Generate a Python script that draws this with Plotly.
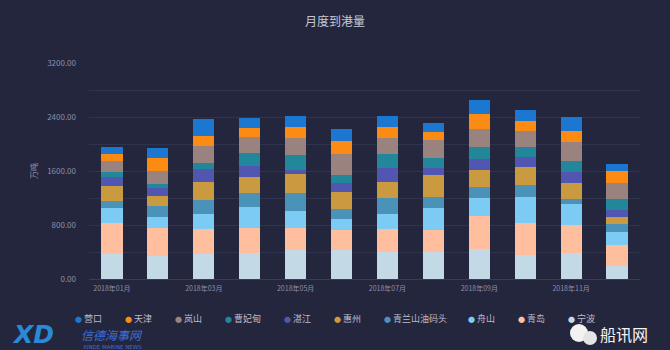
import plotly.graph_objects as go

# ---------------- data ----------------
months = ["2018年01月", "2018年02月", "2018年03月", "2018年04月", "2018年05月", "2018年06月",
          "2018年07月", "2018年08月", "2018年09月", "2018年10月", "2018年11月", "2018年12月"]
tick_months = ["2018年01月", "2018年03月", "2018年05月", "2018年07月", "2018年09月", "2018年11月"]

# legend order (top of stack -> bottom of stack)
names = ["营口", "天津", "岚山", "曹妃甸", "湛江", "惠州", "青兰山油码头", "舟山", "青岛", "宁波"]

yingkou = [114, 138, 247, 138, 158, 173, 168, 133, 207, 163, 203, 104]
tianjin = [99, 193, 148, 133, 163, 203, 153, 124, 227, 148, 158, 173]
lanshan = [158, 203, 257, 247, 257, 306, 247, 272, 267, 242, 282, 247]
caofeidian = [84, 49, 84, 188, 222, 124, 198, 148, 178, 138, 163, 158]
zhanjiang = [128, 124, 188, 168, 64, 124, 207, 99, 158, 148, 163, 99]
huizhou = [222, 148, 272, 237, 272, 262, 247, 321, 247, 272, 247, 114]
qinglanshan = [109, 158, 212, 198, 267, 148, 232, 173, 163, 173, 69, 119]
zhoushan = [222, 173, 222, 311, 262, 158, 227, 321, 272, 395, 311, 188]
qingdao = [459, 405, 370, 380, 321, 296, 341, 331, 494, 469, 410, 311]
ningbo = [365, 346, 365, 380, 430, 430, 395, 395, 440, 356, 390, 193]

values = [yingkou, tianjin, lanshan, caofeidian, zhanjiang, huizhou, qinglanshan, zhoushan, qingdao, ningbo]
colors = ["#1c77d0", "#fb8b12", "#9a837f", "#22879a", "#5157b0", "#c99a40",
          "#4a92b8", "#7ccbf5", "#ffbf9f", "#c3d9e6"]

# ---------------- layout helpers ----------------
W, H = 670, 350
L, R, T, B = 89, 30, 63, 71
PW, PH = W - L - R, H - T - B


def px(x):
    return (x - L) / PW


def py(y):
    return (H - B - y) / PH


BG = "#24263e"
GRID = "#30334c"
TXT = "#8c90a8"
FONT = "Noto Sans CJK SC, Noto Sans, sans-serif"

fig = go.Figure()
# plotly stacks first trace at the bottom -> add in reverse legend order
for name, vals, col in reversed(list(zip(names, values, colors))):
    fig.add_trace(go.Bar(x=months, y=vals, name=name, marker=dict(color=col, line=dict(width=0)),
                         showlegend=False))

fig.update_layout(
    width=W, height=H,
    margin=dict(l=L, r=R, t=T, b=B),
    paper_bgcolor=BG, plot_bgcolor=BG,
    barmode="stack", bargap=0.54,
    font=dict(family=FONT, color=TXT, size=8),
    title=dict(text="月度到港量", x=0.5, xanchor="center", y=1 - 22 / H, yanchor="middle",
               yref="container", font=dict(size=12, color="#c5c8d4", family=FONT)),
    xaxis=dict(tickmode="array", tickvals=tick_months, ticktext=tick_months,
               tickfont=dict(size=7, color=TXT), showgrid=False, showline=True,
               linecolor="#3a3d56", linewidth=1, ticks="", zeroline=False,
               ticklabelstandoff=3),
    yaxis=dict(range=[0, 3200], dtick=800, tick0=0, tickformat=".2f",
               tickfont=dict(size=8, color=TXT), gridcolor=GRID, gridwidth=1,
               zeroline=False, showline=False, ticklabelstandoff=12,
               minor=dict(dtick=400, showgrid=True, gridcolor=GRID),
               title=dict(text="万吨", font=dict(size=8, color=TXT), standoff=8)),
)

# legend drawn as a row of annotations (dot + name)
xp = 73
for name, col in zip(names, colors):
    fig.add_annotation(text=f"<span style='color:{col};font-size:7px'>●</span> {name}",
                       x=px(xp), y=py(318), xref="paper", yref="paper",
                       xanchor="left", yanchor="middle", showarrow=False,
                       font=dict(size=9, color="#b9bccb", family=FONT))
    xp += len(name) * 8.5 + 33


def mark(text, x, y, size, color, family=FONT):
    fig.add_annotation(text=text, x=px(x), y=py(y), xref="paper", yref="paper",
                       xanchor="center", yanchor="middle", showarrow=False,
                       font=dict(size=size, color=color, family=family))


def bubble(cx, cy, r, color):
    fig.add_shape(type="circle", xref="paper", yref="paper",
                  x0=px(cx - r), x1=px(cx + r), y0=py(cy + r), y1=py(cy - r),
                  fillcolor=color, line=dict(width=0), layer="above")


# watermarks (kept just clear of the legend row)
mark("<b><i>XD</i></b>", 33, 334, 25, "#2b8ad6", "DejaVu Sans")
mark("<i>信德海事网</i>", 112, 334.5, 12, "#3d6fd8")
mark("XINDE MARINE NEWS", 112, 346.5, 5.5, "#3d6fd8", "DejaVu Sans")
bubble(579, 333, 9, "#f2f2f2")
bubble(590, 338, 7, "#e4e4e4")
mark("船讯网", 624, 334, 16, "#f4f4f4")

fig.write_html("out.html")
